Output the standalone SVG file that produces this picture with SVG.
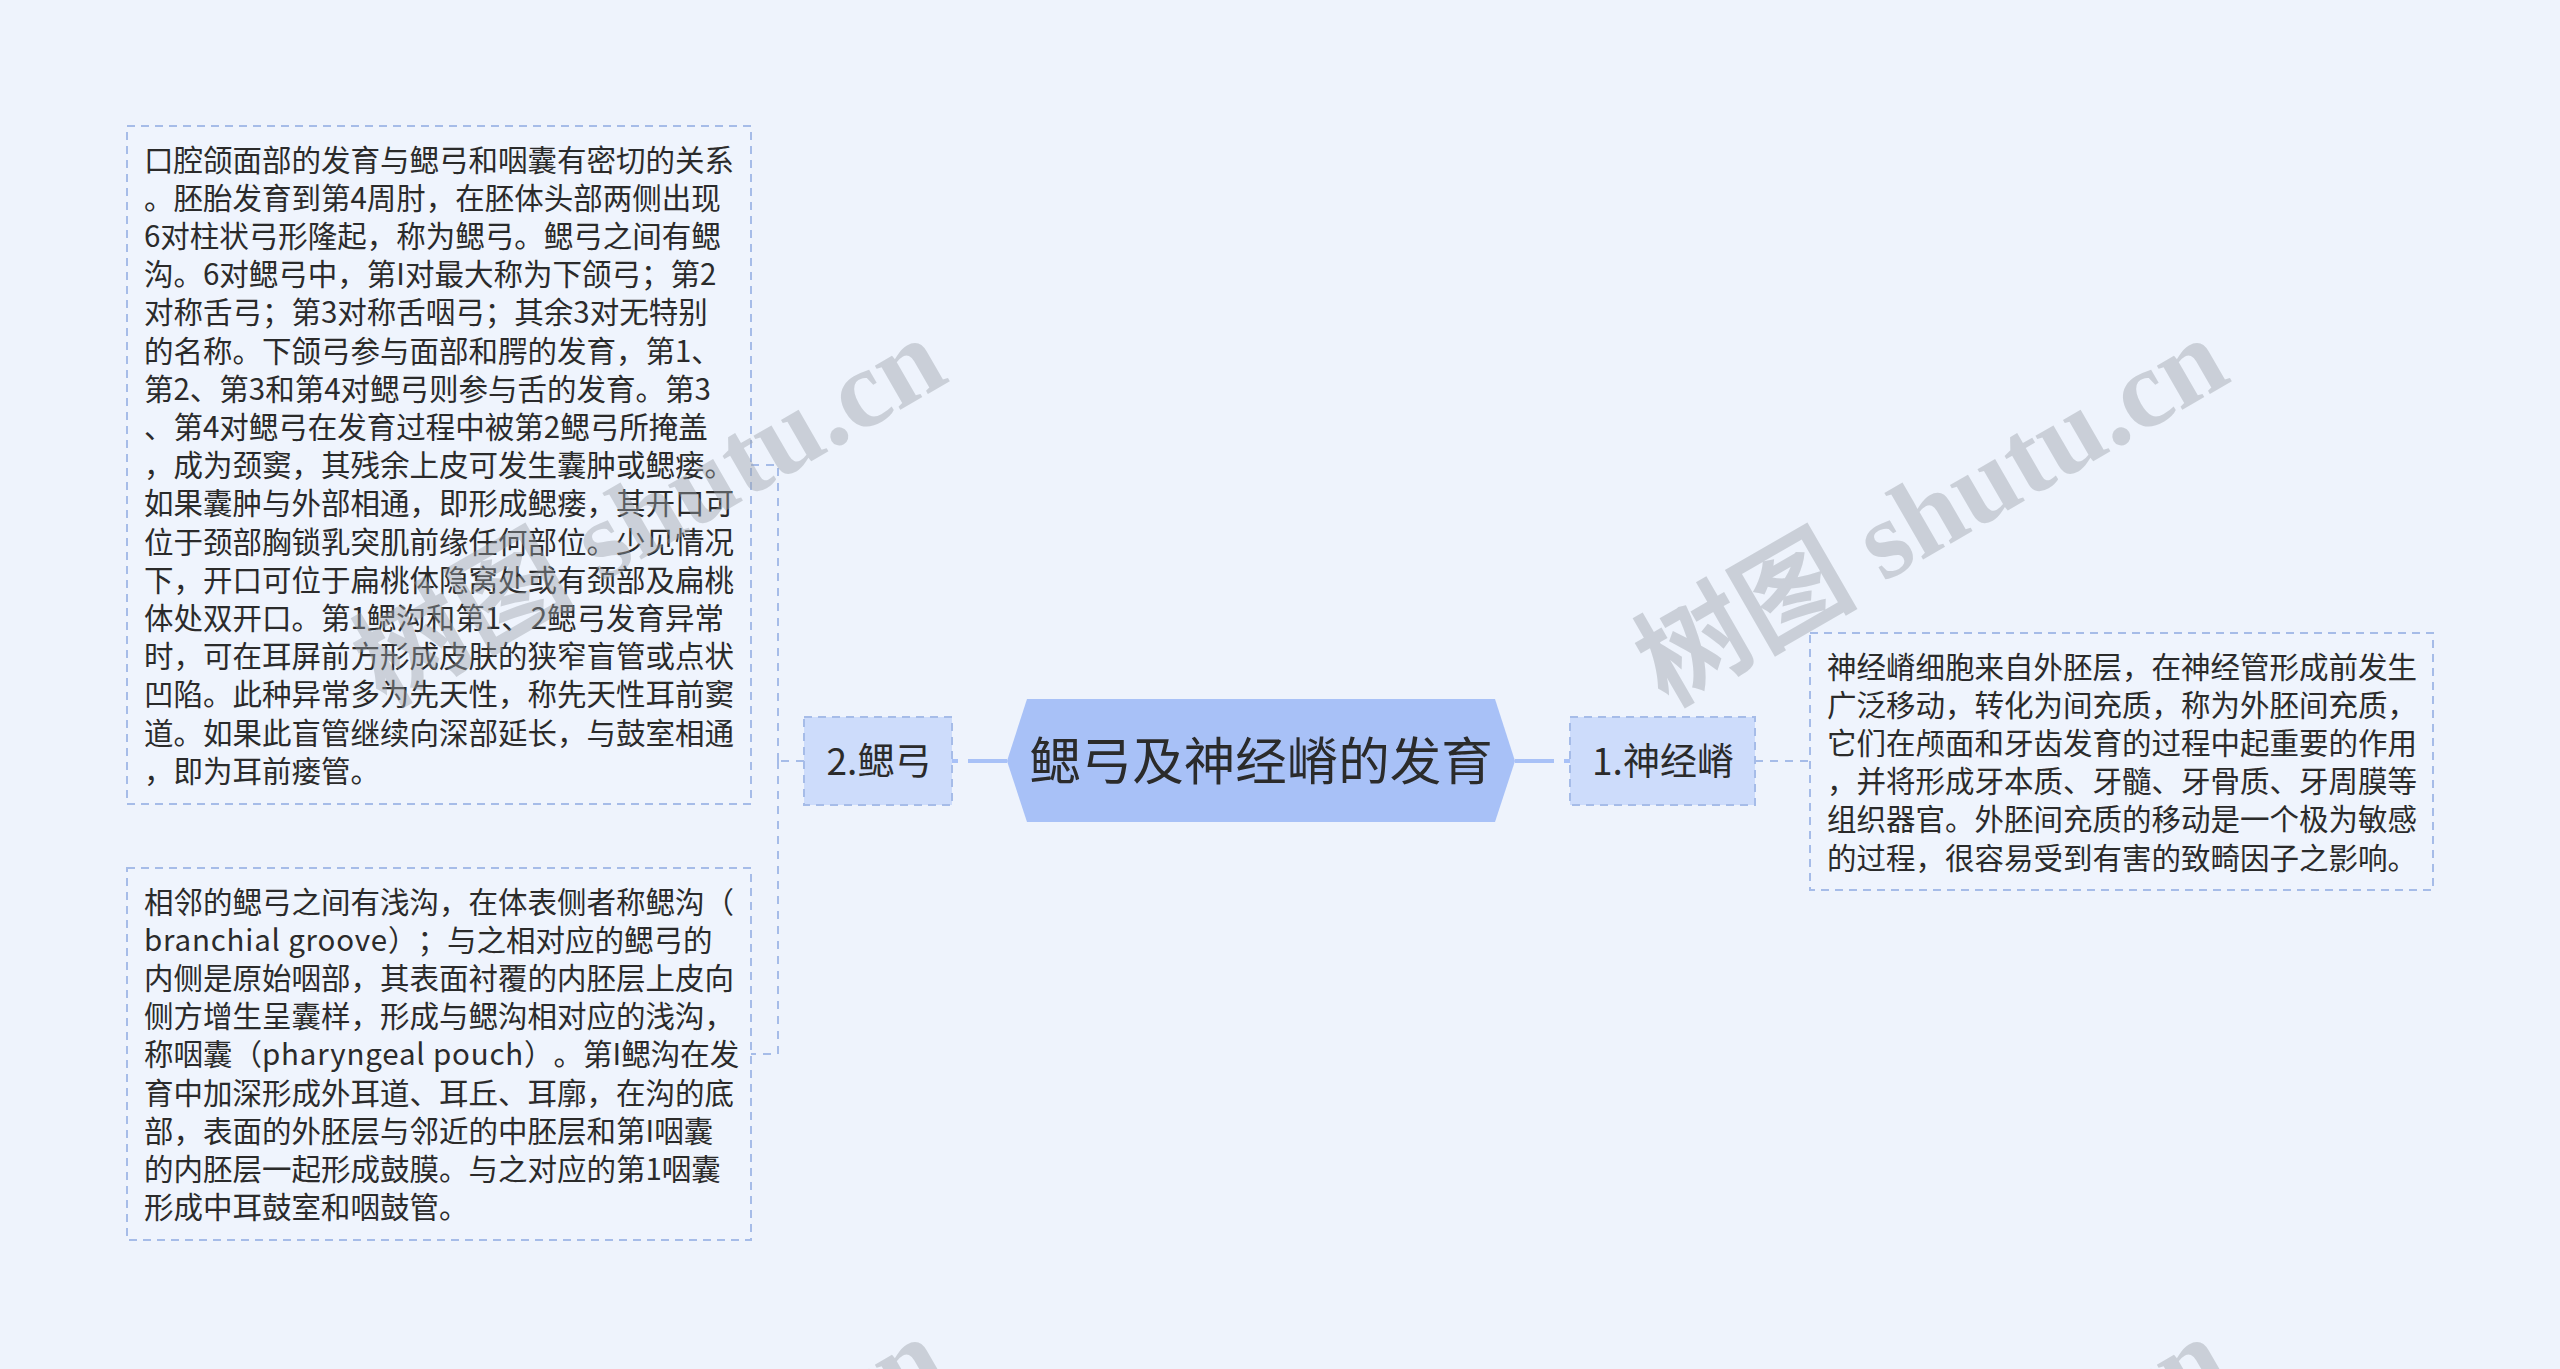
<svg xmlns="http://www.w3.org/2000/svg" width="2560" height="1369" viewBox="0 0 2560 1369">
<style>
.bg{fill:#eef3fc}
.note{fill:#eff4fd;stroke:#a6bce8;stroke-width:2;stroke-dasharray:8 6}
.lab{fill:#cddcfb;stroke:#a6bce8;stroke-width:2;stroke-dasharray:8 6}
.hex{fill:#a8c1f7}
.t{font-family:"Noto Sans CJK SC","Noto Sans",sans-serif;fill:#2b2b2b;text-spacing-trim:space-all}
.nt{font-size:29.5px}
.lat{letter-spacing:0.8px}
.lt{font-size:37px;text-anchor:middle}
.tt{font-size:51.5px;text-anchor:middle}
.dash{fill:none;stroke:#a6bce8;stroke-width:2;stroke-dasharray:8 7}
.solid{fill:none;stroke:#a8c1f7;stroke-width:4}
.wm{font-family:"Liberation Serif","Noto Sans CJK SC",serif;font-weight:bold;font-size:111px;fill:#9aa0a8;opacity:0.42;text-anchor:middle}
</style>
<rect class="bg" x="0" y="0" width="2560" height="1369"/>
<g id="connectors">
<path class="solid" d="M1007 761 H952" stroke-dasharray="39 10 6"/>
<path class="solid" d="M1515 761 H1570" stroke-dasharray="39 10 6"/>
<path class="dash" d="M804 761 H778"/>
<path class="dash" d="M778 761 V465 H751"/>
<path class="dash" d="M778 761 V1054 H751"/>
<path class="dash" d="M1755 761 H1810"/>
</g>
<g id="root">
<polygon class="hex" points="1007,761 1027,699 1495,699 1515,761 1495,822 1027,822"/>
<text class="t tt" x="1261" y="780">鳃弓及神经嵴的发育</text>
</g>
<g id="n-gill">
<rect class="lab" x="804" y="717" width="148" height="88"/>
<text class="t lt" x="879" y="775">2.鳃弓</text>
</g>
<g id="n-crest">
<rect class="lab" x="1570" y="717" width="185" height="88"/>
<text class="t lt" x="1663" y="775">1.神经嵴</text>
</g>
<g id="n-gill-1">
<rect class="note" x="127" y="126" width="624" height="678"/>
<text class="t nt" x="144" y="170.6">
<tspan x="144">口腔颌面部的发育与鳃弓和咽囊有密切的关系</tspan>
<tspan x="144" dy="38.2">。胚胎发育到第4周肘，在胚体头部两侧出现</tspan>
<tspan x="144" dy="38.2">6对柱状弓形隆起，称为鳃弓。鳃弓之间有鳃</tspan>
<tspan x="144" dy="38.2">沟。6对鳃弓中，第I对最大称为下颌弓；第2</tspan>
<tspan x="144" dy="38.2">对称舌弓；第3对称舌咽弓；其余3对无特别</tspan>
<tspan x="144" dy="38.2">的名称。下颌弓参与面部和腭的发育，第1、</tspan>
<tspan x="144" dy="38.2">第2、第3和第4对鳃弓则参与舌的发育。第3</tspan>
<tspan x="144" dy="38.2">、第4对鳃弓在发育过程中被第2鳃弓所掩盖</tspan>
<tspan x="144" dy="38.2">，成为颈窦，其残余上皮可发生囊肿或鳃瘘。</tspan>
<tspan x="144" dy="38.2">如果囊肿与外部相通，即形成鳃瘘，其开口可</tspan>
<tspan x="144" dy="38.2">位于颈部胸锁乳突肌前缘任何部位。少见情况</tspan>
<tspan x="144" dy="38.2">下，开口可位于扁桃体隐窝处或有颈部及扁桃</tspan>
<tspan x="144" dy="38.2">体处双开口。第1鳃沟和第1、2鳃弓发育异常</tspan>
<tspan x="144" dy="38.2">时，可在耳屏前方形成皮肤的狭窄盲管或点状</tspan>
<tspan x="144" dy="38.2">凹陷。此种异常多为先天性，称先天性耳前窦</tspan>
<tspan x="144" dy="38.2">道。如果此盲管继续向深部延长，与鼓室相通</tspan>
<tspan x="144" dy="38.2">，即为耳前瘘管。</tspan>
</text>
</g>
<g id="n-gill-2">
<rect class="note" x="127" y="868" width="624" height="372"/>
<text class="t nt" x="144" y="912.6">
<tspan x="144">相邻的鳃弓之间有浅沟，在体表侧者称鳃沟（</tspan>
<tspan x="144" dy="38.2"><tspan class="lat">branchial groove</tspan>）；与之相对应的鳃弓的</tspan>
<tspan x="144" dy="38.2">内侧是原始咽部，其表面衬覆的内胚层上皮向</tspan>
<tspan x="144" dy="38.2">侧方增生呈囊样，形成与鳃沟相对应的浅沟，</tspan>
<tspan x="144" dy="38.2">称咽囊（<tspan class="lat">pharyngeal pouch</tspan>）。第I鳃沟在发</tspan>
<tspan x="144" dy="38.2">育中加深形成外耳道、耳丘、耳廓，在沟的底</tspan>
<tspan x="144" dy="38.2">部，表面的外胚层与邻近的中胚层和第I咽囊</tspan>
<tspan x="144" dy="38.2">的内胚层一起形成鼓膜。与之对应的第1咽囊</tspan>
<tspan x="144" dy="38.2">形成中耳鼓室和咽鼓管。</tspan>
</text>
</g>
<g id="n-crest-1">
<rect class="note" x="1810" y="633" width="623" height="257"/>
<text class="t nt" x="1827" y="677.6">
<tspan x="1827">神经嵴细胞来自外胚层，在神经管形成前发生</tspan>
<tspan x="1827" dy="38.2">广泛移动，转化为间充质，称为外胚间充质，</tspan>
<tspan x="1827" dy="38.2">它们在颅面和牙齿发育的过程中起重要的作用</tspan>
<tspan x="1827" dy="38.2">，并将形成牙本质、牙髓、牙骨质、牙周膜等</tspan>
<tspan x="1827" dy="38.2">组织器官。外胚间充质的移动是一个极为敏感</tspan>
<tspan x="1827" dy="38.2">的过程，很容易受到有害的致畸因子之影响。</tspan>
</text>
</g>
<g id="watermarks">
<text class="wm" x="649" y="549" transform="rotate(-30 649 511)">树图 shutu.cn</text>
<text class="wm" x="1931" y="549" transform="rotate(-30 1931 511)">树图 shutu.cn</text>
<text class="wm" x="649" y="1548" transform="rotate(-30 649 1510)">树图 shutu.cn</text>
<text class="wm" x="1931" y="1548" transform="rotate(-30 1931 1510)">树图 shutu.cn</text>
</g>
</svg>
